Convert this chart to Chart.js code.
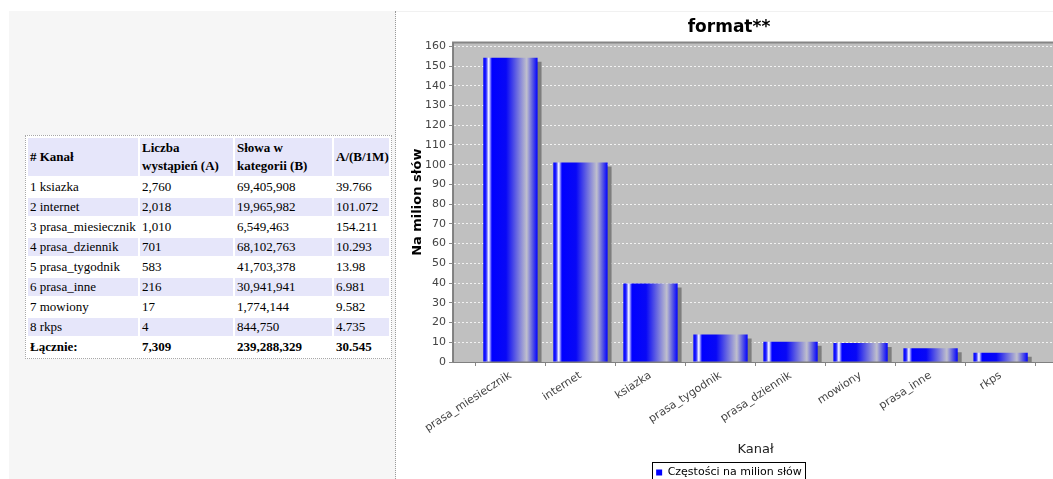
<!DOCTYPE html>
<html lang="pl">
<head>
<meta charset="utf-8">
<title>format**</title>
<script src="https://cdn.jsdelivr.net/npm/chart.js@4.4.1/dist/chart.umd.min.js"></script>
<style>
  html, body { margin: 0; padding: 0; width: 1053px; height: 479px; overflow: hidden; background: #ffffff; }
  #panel { position: absolute; left: 9px; top: 11px; width: 386px; height: 468px; background: #f6f6f6; border-right: 1px dotted #9a9a9a; }
  #topline { position: absolute; left: 396px; top: 11px; width: 657px; height: 1px; background: #f1f1f1; }
  #stats { position: absolute; left: 25px; top: 135px; width: 367px; table-layout: fixed;
           border: 1px dotted #a8a8a8; border-spacing: 2px; background: #ffffff;
           font-family: "Liberation Serif", "Times New Roman", serif; font-size: 13px; color: #000; }
  #stats td, #stats th { padding: 0 2px; text-align: left; vertical-align: middle; white-space: nowrap; overflow: hidden; }
  #stats th { height: 38px; font-weight: bold; line-height: 18px; background: #e6e6fa; }
  #stats td { height: 18px; line-height: 18px; }
  #stats tr.alt td { background: #e6e6fa; }
  #stats tr.total td { font-weight: bold; }
  #chartBox { position: absolute; left: 400px; top: 0; width: 666px; height: 488px; }
</style>
</head>
<body>
<div id="panel"></div>
<div id="topline"></div>
<table id="stats">
  <colgroup><col style="width:110px"><col style="width:93px"><col style="width:97px"><col style="width:55px"></colgroup>
  <thead><tr id="headRow"></tr></thead>
  <tbody id="bodyRows"></tbody>
</table>
<div id="chartBox"><canvas id="chart" width="666" height="488"></canvas></div>
<script>
// Per-channel statistics
const channels = ['ksiazka', 'internet', 'prasa_miesiecznik', 'prasa_dziennik', 'prasa_tygodnik', 'prasa_inne', 'mowiony', 'rkps'];
const occurrences = [2760, 2018, 1010, 701, 583, 216, 17, 4];
const wordsInCategory = [69405908, 19965982, 6549463, 68102763, 41703378, 30941941, 1774144, 844750];
const perMillion = [39.766, 101.072, 154.211, 10.293, 13.98, 6.981, 9.582, 4.735];
const totalRow = ['Łącznie:', '7,309', '239,288,329', '30.545'];
const headerLines = [['# Kanał'], ['Liczba', 'wystąpień (A)'], ['Słowa w', 'kategorii (B)'], ['A/(B/1M)']];

// Table
const fmt = n => n.toLocaleString('en-US');
const headRow = document.getElementById('headRow');
headerLines.forEach(lines => {
  const th = document.createElement('th');
  lines.forEach((line, k) => {
    if (k) th.appendChild(document.createElement('br'));
    th.appendChild(document.createTextNode(line));
  });
  headRow.appendChild(th);
});
const bodyRows = document.getElementById('bodyRows');
channels.forEach((name, i) => {
  const tr = document.createElement('tr');
  if (i % 2 === 1) tr.className = 'alt';
  [(i + 1) + ' ' + name, fmt(occurrences[i]), fmt(wordsInCategory[i]), String(perMillion[i])].forEach(text => {
    const td = document.createElement('td');
    td.textContent = text;
    tr.appendChild(td);
  });
  bodyRows.appendChild(tr);
});
const totalTr = document.createElement('tr');
totalTr.className = 'total';
totalRow.forEach(text => {
  const td = document.createElement('td');
  td.textContent = text;
  totalTr.appendChild(td);
});
bodyRows.appendChild(totalTr);

// Chart: channels ordered by frequency per million words
const order = channels.map((_, i) => i).sort((a, b) => perMillion[b] - perMillion[a]);
const chartCategories = order.map(i => channels[i]);
const chartValues = order.map(i => perMillion[i]);

const BAR_SHARE = 0.775;
const AXIS_FONT = 'DejaVu Sans';

// Horizontal "cylinder" shading for each bar
function barFill(context) {
  const chart = context.chart;
  const xs = chart.scales.x;
  if (context.type !== 'data' || !xs || !context.parsed) return '#0000ff';
  const center = xs.getPixelForValue(context.parsed.x);
  const half = (xs.getPixelForValue(1) - xs.getPixelForValue(0)) * BAR_SHARE / 2;
  if (!Number.isFinite(center) || !Number.isFinite(half) || half <= 0) return '#0000ff';
  const g = chart.ctx.createLinearGradient(center - half, 0, center + half, 0);
  g.addColorStop(0, '#0000ff');
  g.addColorStop(0.05, '#2020ff');
  g.addColorStop(0.1, '#ffffff');
  g.addColorStop(0.16, '#0000ff');
  g.addColorStop(0.42, '#0808f6');
  g.addColorStop(0.8, '#c0c0cc');
  g.addColorStop(0.9, '#6060e0');
  g.addColorStop(1, '#0000ff');
  return g;
}

const plotFrame = {
  id: 'plotFrame',
  beforeDraw(chart) {
    const { ctx, chartArea: a } = chart;
    ctx.save();
    ctx.fillStyle = '#c0c0c0';
    ctx.fillRect(a.left, a.top, a.right - a.left, a.bottom - a.top);
    ctx.strokeStyle = '#858585';
    ctx.lineWidth = 2;
    ctx.beginPath();
    ctx.moveTo(a.left, a.bottom);
    ctx.lineTo(a.left, a.top);
    ctx.lineTo(a.right, a.top);
    ctx.stroke();
    ctx.restore();
  }
};

const barShadow = {
  id: 'barShadow',
  beforeDatasetDraw(chart) {
    const c = chart.ctx;
    c.save();
    c.shadowColor = '#7e7e7e';
    c.shadowOffsetX = 4;
    c.shadowOffsetY = 4;
    c.shadowBlur = 0;
  },
  afterDatasetDraw(chart) {
    chart.ctx.restore();
  }
};

const legendFrame = {
  id: 'legendFrame',
  afterDraw(chart) {
    const hb = chart.legend && chart.legend.legendHitBoxes && chart.legend.legendHitBoxes[0];
    if (!hb) return;
    const c = chart.ctx;
    c.save();
    c.strokeStyle = '#000000';
    c.lineWidth = 1;
    c.strokeRect(Math.round(hb.left) - 3.5, Math.round(hb.top) - 4.5, Math.round(hb.width) + 7, hb.height + 30);
    c.restore();
  }
};

const chart = new Chart(document.getElementById('chart'), {
  type: 'bar',
  data: {
    datasets: [{
      label: 'Częstości na milion słów',
      data: chartValues.map((v, i) => ({ x: i, y: v })),
      backgroundColor: barFill,
      borderWidth: 0,
      categoryPercentage: 1,
      barPercentage: BAR_SHARE,
      clip: 0
    }]
  },
  options: {
    responsive: false,
    animation: false,
    devicePixelRatio: 1,
    layout: { padding: { left: 0, right: 8, top: 0, bottom: 0 } },
    plugins: {
      title: {
        display: true, text: 'format**', color: '#000000',
        font: { family: AXIS_FONT, size: 17, weight: 'bold' },
        padding: { top: 17, bottom: 5 }
      },
      legend: {
        position: 'bottom',
        labels: { boxWidth: 6, boxHeight: 6, color: '#000000', padding: 4,
                  font: { family: AXIS_FONT, size: 11 } }
      },
      tooltip: { enabled: false }
    },
    scales: {
      x: {
        type: 'linear', min: -0.82, max: 7.82, offset: false,
        ticks: {
          stepSize: 1, includeBounds: false, autoSkip: false,
          minRotation: 33, maxRotation: 33, padding: 3,
          color: '#444444', font: { family: AXIS_FONT, size: 11 },
          callback: v => (Number.isInteger(v) && chartCategories[v]) ? chartCategories[v] : ''
        },
        grid: { drawOnChartArea: false, tickLength: 4, tickColor: '#888888' },
        border: { color: '#808080', width: 1 },
        title: {
          display: true, text: 'Kanał', color: '#222222',
          font: { family: AXIS_FONT, size: 13 },
          padding: { top: 0, bottom: 6 }
        },
        afterFit: s => { s.height = 101; }
      },
      y: {
        min: 0, max: 162,
        ticks: { stepSize: 10, includeBounds: false, padding: 3, color: '#444444',
                 font: { family: AXIS_FONT, size: 11 } },
        grid: {
          color: c => (c.tick && c.tick.value === 0) ? 'rgba(0,0,0,0)' : '#f2f2f2',
          lineWidth: 1, tickLength: 4, tickColor: '#888888'
        },
        border: { color: '#808080', width: 1, dash: [2, 2] },
        title: {
          display: true, text: 'Na milion słów', color: '#000000',
          font: { family: AXIS_FONT, size: 13, weight: 'bold' },
          padding: { top: 10, bottom: 0 }
        },
        afterFit: s => { s.width = 53; }
      }
    }
  },
  plugins: [plotFrame, barShadow, legendFrame]
});
// Refresh so the bar gradients are built from the final scale layout
chart.update('none');
</script>
</body>
</html>
